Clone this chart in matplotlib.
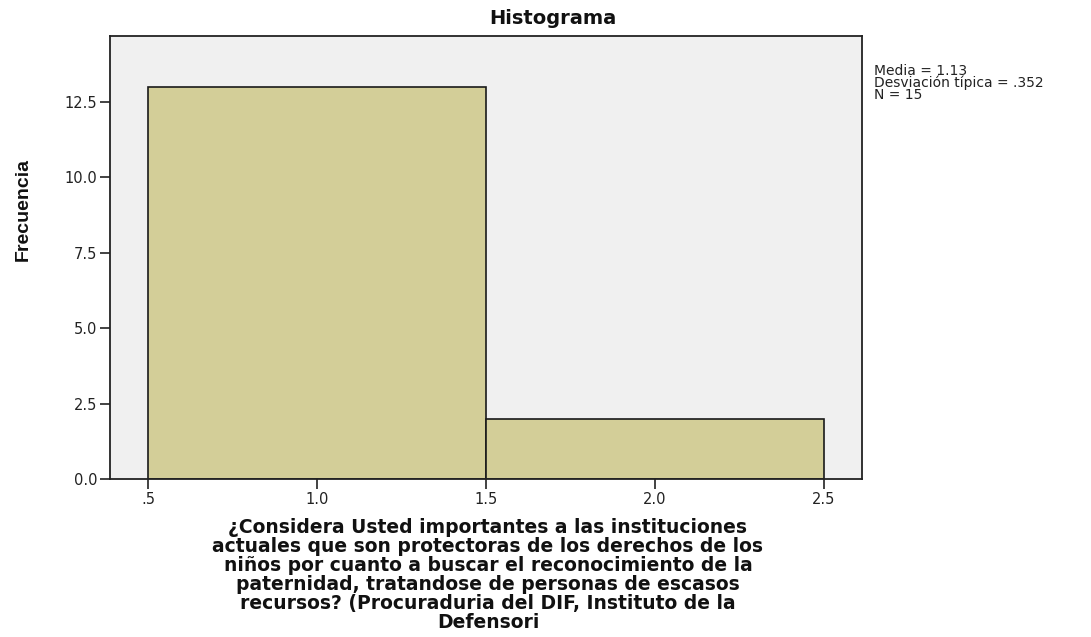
import matplotlib
matplotlib.use("Agg")
import matplotlib.pyplot as plt
import numpy as np

bin_edges = [0.5, 1.5, 2.5]
counts = [13, 2]
xticks = [0.5, 1.0, 1.5, 2.0, 2.5]
xtick_labels = [".5", "1.0", "1.5", "2.0", "2.5"]
yticks = [0.0, 2.5, 5.0, 7.5, 10.0, 12.5]
ytick_labels = ["0.0", "2.5", "5.0", "7.5", "10.0", "12.5"]
stats_text = "Media = 1.13\nDesviación típica = .352\nN = 15"
title = "Histograma"
ylabel = "Frecuencia"
xlabel = ("¿Considera Usted importantes a las instituciones\n"
          "actuales que son protectoras de los derechos de los\n"
          "niños por cuanto a buscar el reconocimiento de la\n"
          "paternidad, tratandose de personas de escasos\n"
          "recursos? (Procuraduria del DIF, Instituto de la\n"
          "Defensori")

plt.rcParams['font.family'] = ['DejaVu Sans']

fig = plt.figure(figsize=(10.91, 6.37), dpi=100)
ax = fig.add_axes([0.1008, 0.248, 0.689, 0.6955])
ax.set_facecolor('#f0f0f0')

widths = np.diff(bin_edges)
ax.bar(bin_edges[:-1], counts, width=widths, align='edge',
       color='#d3ce98', edgecolor='#1a1a1a', linewidth=1.2, zorder=2)

ax.set_xlim(0.3876, 2.612)
ax.set_ylim(0, 14.69)
ax.set_xticks(xticks)
ax.set_xticklabels(xtick_labels, fontsize=10.5)
ax.set_yticks(yticks)
ax.set_yticklabels(ytick_labels, fontsize=10.5)
ax.tick_params(axis='both', direction='out', length=7, width=1.2, color='#222222',
               labelcolor='#222222', pad=2)
for s in ax.spines.values():
    s.set_color('#222222')
    s.set_linewidth(1.3)

fig.text(553 / 1091, 1 - 18 / 637, title, fontsize=14, fontweight='bold',
         ha='center', va='center', color='#111111')
fig.text(23 / 1091, 1 - 210 / 637, ylabel, fontsize=14, fontweight='bold',
         family=['Liberation Sans'], rotation=90, ha='center', va='center',
         color='#111111')
fig.text(488 / 1091, 1 - 518 / 637, xlabel, fontsize=13.5, fontweight='bold',
         linespacing=1.0, ha='center', va='top', multialignment='center',
         color='#111111')

fig.text(874 / 1091, 1 - 64 / 637, stats_text, fontsize=10, va='top', ha='left',
         linespacing=0.82, color='#222222')

fig.savefig("out.png", dpi=100)
